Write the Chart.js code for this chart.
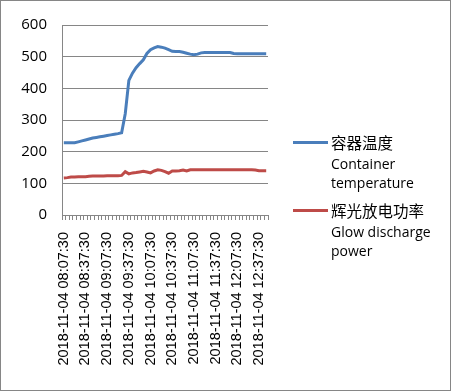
<!DOCTYPE html>
<html>
<head>
<meta charset="utf-8">
<script src="https://cdn.jsdelivr.net/npm/chart.js@4"></script>
<style>
  body { margin: 0; background: #fff; }
  #box { position: absolute; left: 0; top: 0; width: 449px; height: 389px; border: 1px solid #868686; }
  #chart1 { position: absolute; left: 0; top: 0; }
  .key { position: absolute; left: 292px; width: 35px; height: 3px; }
  .txt { position: absolute; left: 330px; font-family: "Open Sans", sans-serif; font-size: 14px; line-height: 19.5px; color: #000; }
  .cjk { font-family: "Noto Sans CJK SC", sans-serif; font-size: 15.5px; }
</style>
</head>
<body>
<div id="box">
  <canvas id="chart1" width="449" height="389"></canvas>
  <div id="legend"></div>
</div>
<script>
// time axis, one reading every 5 minutes
const categories = [
  "2018-11-04 08:07:30", "2018-11-04 08:12:30", "2018-11-04 08:17:30", "2018-11-04 08:22:30",
  "2018-11-04 08:27:30", "2018-11-04 08:32:30", "2018-11-04 08:37:30", "2018-11-04 08:42:30",
  "2018-11-04 08:47:30", "2018-11-04 08:52:30", "2018-11-04 08:57:30", "2018-11-04 09:02:30",
  "2018-11-04 09:07:30", "2018-11-04 09:12:30", "2018-11-04 09:17:30", "2018-11-04 09:22:30",
  "2018-11-04 09:27:30", "2018-11-04 09:32:30", "2018-11-04 09:37:30", "2018-11-04 09:42:30",
  "2018-11-04 09:47:30", "2018-11-04 09:52:30", "2018-11-04 09:57:30", "2018-11-04 10:02:30",
  "2018-11-04 10:07:30", "2018-11-04 10:12:30", "2018-11-04 10:17:30", "2018-11-04 10:22:30",
  "2018-11-04 10:27:30", "2018-11-04 10:32:30", "2018-11-04 10:37:30", "2018-11-04 10:42:30",
  "2018-11-04 10:47:30", "2018-11-04 10:52:30", "2018-11-04 10:57:30", "2018-11-04 11:02:30",
  "2018-11-04 11:07:30", "2018-11-04 11:12:30", "2018-11-04 11:17:30", "2018-11-04 11:22:30",
  "2018-11-04 11:27:30", "2018-11-04 11:32:30", "2018-11-04 11:37:30", "2018-11-04 11:42:30",
  "2018-11-04 11:47:30", "2018-11-04 11:52:30", "2018-11-04 11:57:30", "2018-11-04 12:02:30",
  "2018-11-04 12:07:30", "2018-11-04 12:12:30", "2018-11-04 12:17:30", "2018-11-04 12:22:30",
  "2018-11-04 12:27:30", "2018-11-04 12:32:30", "2018-11-04 12:37:30", "2018-11-04 12:42:30",
  "2018-11-04 12:47:30"
];

const containerTemp = [
  228, 228, 228, 228, 231, 234, 237, 240, 243, 245,
  247, 249, 251, 253, 255, 257, 260, 320, 425, 448,
  465, 478, 490, 510, 522, 528, 532, 530, 527, 522,
  517, 516, 516, 514, 511, 508, 506, 508, 512, 513,
  513, 513, 513, 513, 513, 513, 513, 510, 509, 509,
  509, 509, 509, 509, 509, 509, 509
];

const glowPower = [
  117, 118, 120, 120, 121, 121, 121, 122, 123, 123,
  123, 123, 124, 124, 124, 124, 125, 137, 130, 133,
  134, 136, 138, 136, 133, 139, 143, 141, 137, 132,
  139, 139, 140, 142, 139, 143, 143, 143, 143, 143,
  143, 143, 143, 143, 143, 143, 143, 143, 143, 143,
  143, 143, 143, 142, 140, 140, 140
];

const seriesNames = [
  ["容器温度", "Container", "temperature"],
  ["辉光放电功率", "Glow discharge", "power"]
];
const seriesColors = ["#4A7EBB", "#BE4B48"];

const yTicks = [0, 100, 200, 300, 400, 500, 600];

const axisGray = "#868686";

new Chart("chart1", {
    type: "line",
    data: {
        labels: categories,
        datasets: [
            { label: seriesNames[0].join(" "), data: containerTemp, borderColor: seriesColors[0], backgroundColor: seriesColors[0] },
            { label: seriesNames[1].join(" "), data: glowPower, borderColor: seriesColors[1], backgroundColor: seriesColors[1] }
        ]
    },
    options: {
        responsive: false,
        animation: false,
        elements: {
            line: { borderWidth: 3, tension: 0 },
            point: { radius: 0 }
        },
        layout: { padding: { left: 0, top: 21, right: 182, bottom: 0 } },
        plugins: {
            legend: { display: false },
            tooltip: { enabled: false }
        },
        scales: {
            x: {
                offset: true,
                grid: { offset: true, drawOnChartArea: false, drawTicks: true, tickLength: 5, color: axisGray },
                border: { color: axisGray },
                ticks: {
                    autoSkip: false,
                    minRotation: 90,
                    maxRotation: 90,
                    padding: 12,
                    color: "#000",
                    font: { family: "Liberation Sans", size: 14.5 },
                    callback: (v, i) => i % 6 === 0 ? categories[i] : ""
                },
                afterFit: scale => { scale.height = 175; }
            },
            y: {
                min: yTicks[0],
                max: yTicks[yTicks.length - 1],
                ticks: {
                    stepSize: 100,
                    padding: 15,
                    color: "#000",
                    font: { family: "Open Sans", size: 15 }
                },
                grid: { color: axisGray, drawTicks: false },
                border: { color: axisGray },
                afterFit: scale => { scale.width = 61; }
            }
        }
    }
});

// legend with multi-line names, drawn beside the plot
const legend = document.getElementById("legend");
const legendTops = [132, 200];
seriesNames.forEach((lines, k) => {
    const key = document.createElement("div");
    key.className = "key";
    key.style.top = (legendTops[k] + 8) + "px";
    key.style.background = seriesColors[k];
    legend.appendChild(key);

    const txt = document.createElement("div");
    txt.className = "txt";
    txt.style.top = legendTops[k] + "px";
    txt.innerHTML = '<span class="cjk">' + lines[0] + "</span><br>" + lines[1] + "<br>" + lines[2];
    legend.appendChild(txt);
});
</script>
</body>
</html>
